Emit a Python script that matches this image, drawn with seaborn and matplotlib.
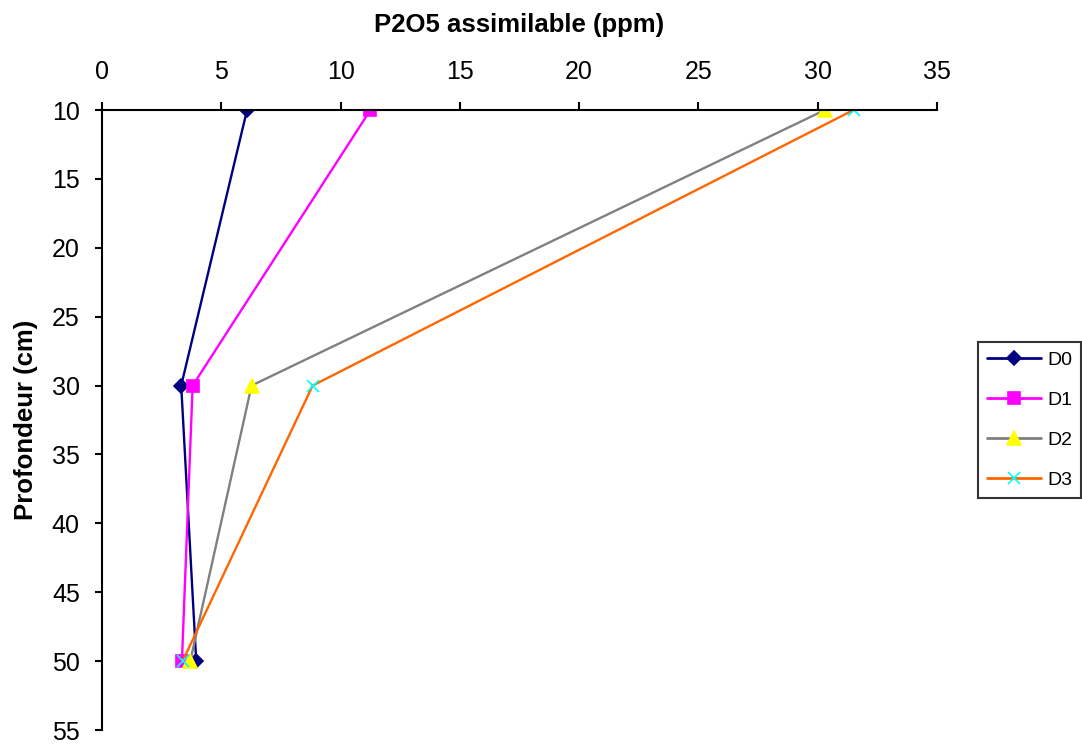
import matplotlib
matplotlib.use("Agg")
import matplotlib.pyplot as plt
import seaborn as sns
import pandas as pd
from matplotlib.lines import Line2D

# Data
depth = [10, 30, 50]
series_names = ["D0", "D1", "D2", "D3"]
d0 = [6.08, 3.32, 3.95]
d1 = [11.25, 3.80, 3.35]
d2 = [30.3, 6.27, 3.70]
d3 = [31.5, 8.83, 3.38]
x_ticks = [0, 5, 10, 15, 20, 25, 30, 35]
y_ticks = [10, 15, 20, 25, 30, 35, 40, 45, 50, 55]

sns.set_style("white")
plt.rcParams["font.family"] = ["Liberation Sans", "DejaVu Sans"]
plt.rcParams["text.color"] = "black"
plt.rcParams["axes.labelcolor"] = "black"
plt.rcParams["xtick.color"] = "black"
plt.rcParams["ytick.color"] = "black"

fig = plt.figure(figsize=(10.82, 7.44), dpi=100)
ax = fig.add_axes([102 / 1082, 1 - 730 / 744, (937 - 102) / 1082, (730 - 110) / 744])

styles = {
    "D0": dict(color="#000080", marker="D", mfc="#000080", mec="#000080", ms=7),
    "D1": dict(color="#FF00FF", marker="s", mfc="#FF00FF", mec="#FF00FF", ms=9),
    "D2": dict(color="#808080", marker="^", mfc="#FFFF00", mec="#FFFF00", ms=9.5),
    "D3": dict(color="#FF6600", marker="x", mfc="#00FFFF", mec="#00FFFF", ms=8),
}
values = {"D0": d0, "D1": d1, "D2": d2, "D3": d3}

handles = []
for name in series_names:
    st = styles[name]
    df = pd.DataFrame({"x": values[name], "y": depth})
    sns.lineplot(data=df, x="x", y="y", sort=False, estimator=None, ax=ax,
                 color=st["color"], linewidth=1.7, marker=st["marker"],
                 markerfacecolor=st["mfc"], markeredgecolor=st["mec"],
                 markersize=st["ms"], markeredgewidth=1.2, legend=False)
    handles.append(Line2D([], [], color=st["color"], linewidth=2.0, marker=st["marker"],
                          markerfacecolor=st["mfc"], markeredgecolor=st["mec"],
                          markersize=st["ms"], markeredgewidth=1.2, label=name))

ax.set_xlim(0, 35)
ax.set_ylim(55, 10)
ax.set_xticks(x_ticks)
ax.set_yticks(y_ticks)
ax.xaxis.tick_top()
ax.xaxis.set_label_position("top")
ax.tick_params(axis="x", direction="out", length=6, width=1.5, pad=13, labelsize=18)
ax.tick_params(axis="y", direction="out", length=5, width=1.5, pad=11, labelsize=18)
ax.tick_params(top=True, bottom=False, left=True, right=False)
for s in ["right", "bottom"]:
    ax.spines[s].set_visible(False)
for s in ["top", "left"]:
    ax.spines[s].set_color("black")
    ax.spines[s].set_linewidth(1.5)

ax.set_xlabel("P2O5 assimilable (ppm)", fontsize=18.5, fontweight="bold", labelpad=20)
ax.set_ylabel("Profondeur (cm)", fontsize=18.5, fontweight="bold", labelpad=10)

leg = fig.legend(handles=handles, loc="center left",
                 bbox_to_anchor=(978 / 1082, 1 - 420 / 744), frameon=True,
                 fontsize=14, handlelength=2.8, labelspacing=1.15,
                 borderpad=0.45, handletextpad=0.3, borderaxespad=0.0,
                 fancybox=False)
leg.get_frame().set_edgecolor("black")
leg.get_frame().set_linewidth(1.5)

fig.savefig("out.png", dpi=100)
